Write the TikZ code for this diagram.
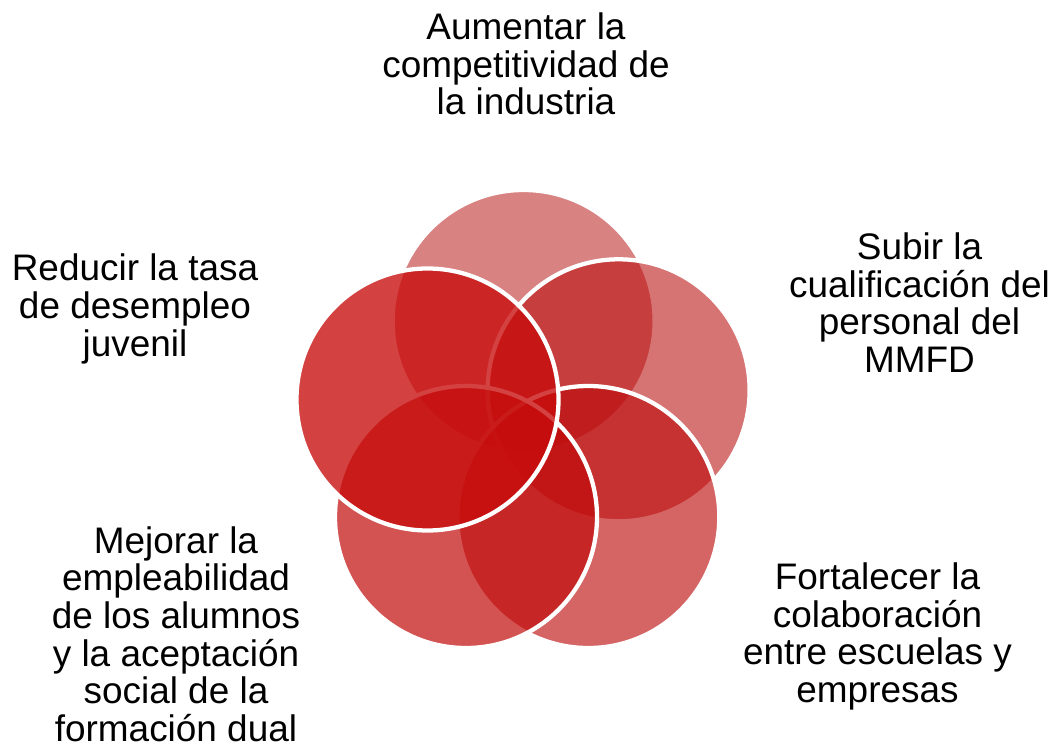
\documentclass[tikz,border=0pt]{standalone}
\usepackage{fontspec}
\setmainfont{Liberation Sans}
\definecolor{cTop}{RGB}{181,12,12}
\definecolor{cRight}{RGB}{185,12,12}
\definecolor{cBR}{RGB}{190,12,12}
\definecolor{cBL}{RGB}{193,12,12}
\definecolor{cLeft}{RGB}{200,12,12}
\tikzset{
  venn/.style={circle, inner sep=0pt, outer sep=0pt, minimum size=196.5pt,
    draw=white, line width=3.2pt},
  lbl/.style={align=center, anchor=base, inner sep=0pt,
    font=\fontsize{27.7pt}{28.3pt}\selectfont}
}
\begin{document}
\begin{tikzpicture}[x=0.75pt, y=-0.75pt]
\path[use as bounding box, fill=white] (0,0) rectangle (1055,748);
% circles, drawn in stacking order
\node[venn, fill=cTop, fill opacity=0.514] (cirTop) at (523.6,321) {};
\node[venn, fill=cRight, fill opacity=0.572] (cirRight) at (618.6,390.3) {};
\node[venn, fill=cBR, fill opacity=0.630] (cirBR) at (588.3,517) {};
\node[venn, fill=cBL, fill opacity=0.704] (cirBL) at (466,517) {};
\node[venn, fill=cLeft, fill opacity=0.782] (cirLeft) at (427.5,399.5) {};
% labels (anchor = baseline of the last line)
\node[lbl] (tTop) at (526,114.8) {Aumentar la\\competitividad de\\la industria};
\node[lbl] (tRight) at (919.5,372.5) {Subir la\\cualificación del\\personal del\\MMFD};
\node[lbl] (tBR) at (877.5,702.5) {Fortalecer la\\colaboración\\entre escuelas y\\empresas};
\node[lbl] (tBL) at (176,741.7) {Mejorar la\\empleabilidad\\de los alumnos\\y la aceptación\\social de la\\formación dual};
\node[lbl] (tLeft) at (135,356) {Reducir la tasa\\de desempleo\\juvenil};
\end{tikzpicture}
\end{document}
